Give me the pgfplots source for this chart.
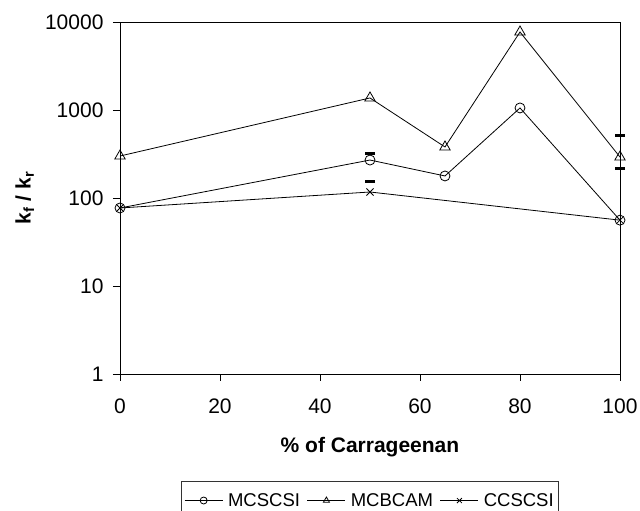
\documentclass[border=0pt]{standalone}
\usepackage{pgfplots}
\pgfplotsset{compat=1.18}
\usepackage{fontspec}
\setmainfont{Liberation Sans}
\setsansfont{Liberation Sans}
\begin{document}
\begin{tikzpicture}
\begin{axis}[
  scale only axis,
  width=500pt, height=352pt,
  xmin=0, xmax=100,
  ymode=log, ymin=1, ymax=10000,
  log basis y=10,
  xtick={0,20,...,100},
  ytick={1,10,100,1000,10000},
  yticklabels={1,10,100,1000,10000},
  minor ytick={},
  log ticks with fixed point,
  tick align=outside,
  tick pos=left,
  major tick length=7pt,
  tick style={black, line width=0.6pt},
  axis line style={black, line width=0.6pt},
  /pgf/number format/assume math mode=true,
  ticklabel style={font=\fontsize{21}{24}\selectfont},
  xticklabel style={yshift=-14pt},
  yticklabel style={xshift=-6pt},
  xlabel={\textbf{\% of Carrageenan}},
  ylabel={\textbf{k\textsubscript{f} / k\textsubscript{r}}},
  label style={font=\fontsize{21}{24}\selectfont},
  xlabel style={yshift=-17pt},
  ylabel style={yshift=4pt},
  legend columns=3,
  legend style={at={(0.5,-0.304)}, anchor=north, draw=black!80, line width=0.6pt,
    font=\fontsize{18.5}{22}\selectfont, inner ysep=10pt, inner xsep=3pt,
    /tikz/every even column/.append style={column sep=5pt},
    /tikz/every odd column/.append style={column sep=3pt}},
  legend image code/.code={%
    \draw[mark repeat=2, mark phase=2] plot coordinates {(0pt,0pt) (19pt,0pt) (38pt,0pt)};},
  legend image post style={line width=0.8pt, mark size=3.5pt},
  every axis plot/.append style={black, line width=0.8pt},
]
\addplot[mark=o, mark size=5pt, mark options={line width=0.8pt, fill=white}] coordinates {
  (0,77) (50,270) (65,178) (80,1055) (100,56)};
\addlegendentry{MCSCSI}
\addplot[mark=triangle, mark size=6pt, mark options={line width=0.8pt}] coordinates {
  (0,300) (50,1370) (65,380) (80,7700) (100,292)};
\addlegendentry{MCBCAM}
\addplot[mark=x, mark size=5pt, mark options={line width=0.8pt}] coordinates {
  (0,77) (50,117) (100,56)};
\addlegendentry{CCSCSI}
\addplot[only marks, forget plot, mark=-, mark size=5pt, mark options={line width=3pt}] coordinates {
  (50,324) (50,156) (100,507) (100,219)};
\end{axis}
\pgfresetboundingbox
\path (current axis.south west) ++(-120pt,-137pt) coordinate (bl);
\path (current axis.north east) ++(20pt,22pt) coordinate (tr);
\path[use as bounding box] (bl) rectangle (tr);
\end{tikzpicture}
\end{document}
